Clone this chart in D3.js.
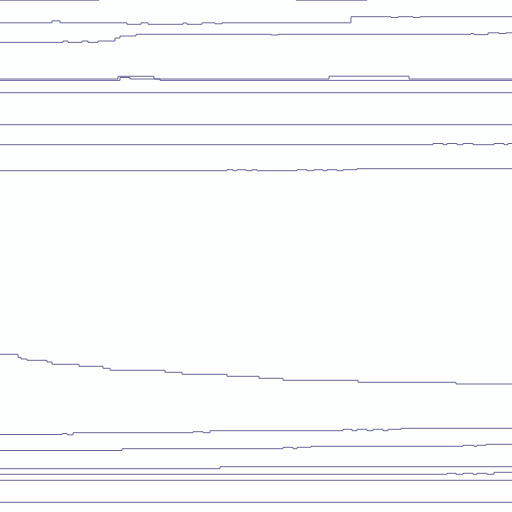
<!DOCTYPE html>
<html>
<head>
<meta charset="utf-8">
<script src="https://cdn.jsdelivr.net/npm/d3@7/dist/d3.min.js"></script>
<style>
  html, body { margin: 0; padding: 0; background: #fdfefe; }
  svg { display: block; }
</style>
</head>
<body>
<svg id="chart" width="512" height="512"></svg>
<script>
// Each series: [time, level] observations; level holds until the next observation.
const s01 = [[0,0.1],[24.75,-1.5],[74,0.1],[91.75,-1.5],[128,-1.5]];
const s02 = [[0,11.4],[13,10.4],[15,11.4],[31.75,12.15],[35.25,11.4],[37,12.15],[45.75,11.5],[46.75,12.15],[50.5,11.4],[53.75,11.9],[55.5,11.4],[87.75,8.35],[97.75,8.75],[99.5,8.35],[103.25,8.75],[105,8.35],[128,8.35]];
const s03 = [[0,21.2],[15.75,20.5],[17,21.2],[20.5,20.5],[22,21.2],[24.5,20.5],[28.75,19],[30,18],[34,17.15],[67.75,17.5],[69.5,17.15],[117.75,16.75],[118.5,17.3],[122,16.4],[124.75,16.75],[126.5,16.4],[128,16.4]];
const s04 = [[0,39.5],[29.5,38.15],[38.5,39.5],[82.25,38.1],[102.25,39.5],[128,39.5]];
const s05 = [[0,40.2],[30,38.75],[32.5,39.5],[40,40.2],[128,40.2]];
const s06 = [[0,46.35],[128,46.35]];
const s07 = [[0,62.35],[128,62.35]];
const s08 = [[0,72.35],[108.25,71.75],[110.75,72.35],[111.75,71.75],[114.25,72.35],[115.75,71.75],[118.25,72.35],[123.5,71.75],[126,72.35],[127,71.75],[128,71.75]];
const s09 = [[0,85.35],[56.75,84.85],[58.25,85.35],[59.25,84.85],[61.5,85.35],[63,84.85],[64.25,85.35],[74.25,84.85],[76.75,85.35],[78.5,84.85],[80.75,85.35],[81.75,84.85],[84.25,85.35],[85.75,84.85],[89.25,84.35],[128,84.35]];
const s10 = [[0,177.15],[4.5,178.65],[5.25,179.5],[6.75,180.15],[11.75,181],[13,182.15],[19.75,183.15],[25.75,184.15],[27.5,185.15],[41.25,186.15],[45.5,187.15],[56.75,188.15],[64.75,189.15],[70.75,190.15],[89.5,191.15],[114,192],[128,192]];
const s11 = [[0,217.25],[15.5,216.75],[16.75,217.4],[18.25,216.35],[48.25,215.85],[50.75,216.35],[52.5,215.35],[85.75,214.65],[88,215.35],[89.25,214.65],[91.75,215.35],[93.25,214.65],[95.75,215.35],[97,214.65],[100.25,214.15],[128,214.15]];
const s12 = [[0,225.25],[30.5,224.35],[70.75,223.65],[73.25,224.35],[74.25,223.65],[77.75,223.15],[115.75,222.65],[118.5,223.15],[119.25,222.65],[121.5,222.15],[128,222.15]];
const s13 = [[0,234.35],[55,233.35],[128,233.35]];
const s14 = [[0,237.15],[111.75,236.65],[114,237.15],[115.75,236.65],[118.25,237.15],[119.25,236.65],[121.75,237.15],[123.5,236.15],[128,236.15]];
const s15 = [[0,240.15],[128,240.15]];
const s16 = [[0,251.15],[128,251.15]];

const allSeries = [s01,s02,s03,s04,s05,s06,s07,s08,s09,s10,s11,s12,s13,s14,s15,s16];

const W = 512, H = 512;
const x = d3.scaleLinear().domain([0, 128]).range([0, W]);
const y = d3.scaleLinear().domain([0, 256]).range([0, H]);

const line = d3.line()
  .x(d => x(d[0]))
  .y(d => y(d[1]))
  .curve(d3.curveStepAfter);

const svg = d3.select("#chart");
svg.append("rect").attr("width", W).attr("height", H).attr("fill", "#fdfefe");

svg.append("g")
  .selectAll("path")
  .data(allSeries)
  .join("path")
  .attr("d", line)
  .attr("fill", "none")
  .attr("stroke", "#5a5a8e")
  .attr("stroke-opacity", 0.9)
  .attr("stroke-width", 1);
</script>
</body>
</html>
